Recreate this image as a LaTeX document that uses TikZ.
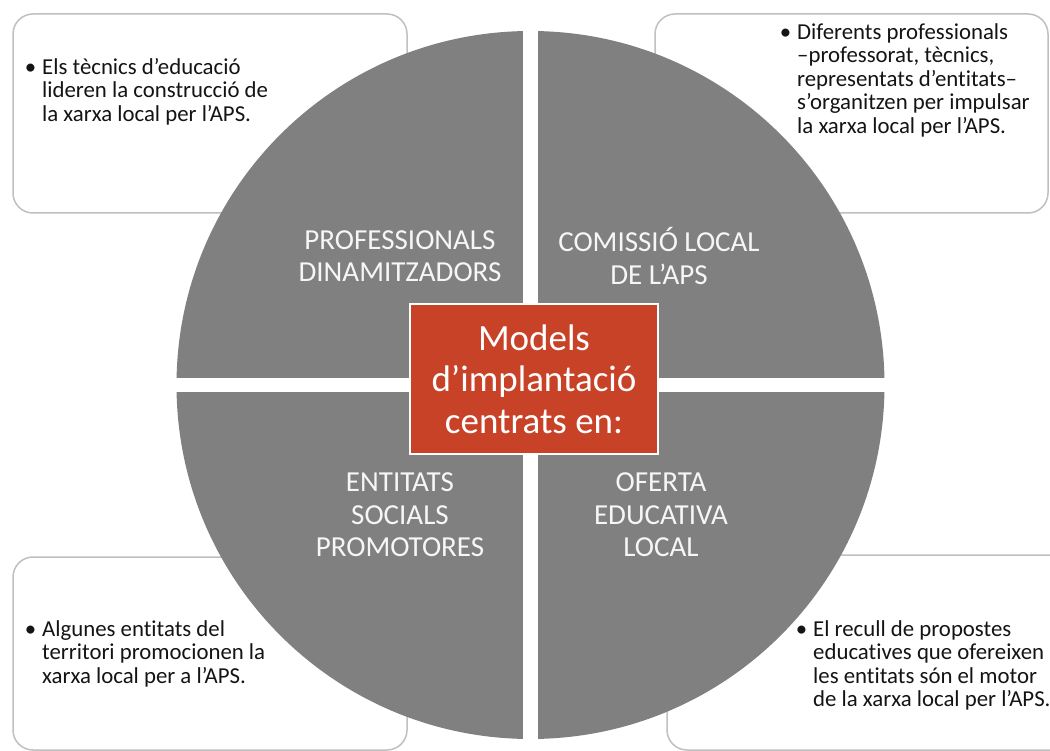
\documentclass[tikz,border=0pt]{standalone}
\usepackage{fontspec}
\setmainfont{Carlito}[RawFeature={-liga;-clig;-dlig}]
\definecolor{quadgray}{RGB}{128,128,128}
\definecolor{centerred}{RGB}{200,66,40}
\definecolor{boxline}{RGB}{192,192,192}
\definecolor{boxtext}{RGB}{20,20,20}
\definecolor{quadtext}{RGB}{246,246,246}
\begin{document}
\begin{tikzpicture}[x=1pt,y=-1pt,
  infobox/.style={draw=boxline,line width=1.5pt,rounded corners=20pt,fill=white},
  infotext/.style={anchor=north west,inner sep=0pt,align=left,text=boxtext,font=\fontsize{22.8}{23.5}\selectfont},
  quadlabel/.style={align=center,text=quadtext,inner sep=0pt,font=\fontsize{29}{32.5}\selectfont},
  centerbox/.style={draw=white,line width=1.5pt,fill=centerred,text=white,minimum width=248pt,minimum height=150pt,inner sep=0pt,align=center,font=\fontsize{37}{41.5}\selectfont}
  ]
\useasboundingbox (0,0) rectangle (1050,751);
\fill[white] (0,0) rectangle (1050,751);
\clip (0,0) rectangle (1050,751);
% outer boxes
\draw[infobox] (13,14) rectangle (407,213);
\draw[infobox] (655,14) rectangle (1048,213);
\draw[infobox] (13,557) rectangle (407,750);
\draw[infobox] (667,555) rectangle (1075,750);
% circle in four quadrants
\coordinate (c) at (530.5,385);
\begin{scope}
  \clip (c) circle[radius=354pt];
  \fill[quadgray] (170,25) rectangle (523,378);
  \fill[quadgray] (538,25) rectangle (890,378);
  \fill[quadgray] (170,392) rectangle (523,745);
  \fill[quadgray] (538,392) rectangle (890,745);
\end{scope}
% centre
\node[centerbox] (center) at (534,379) {Models\\d’implantació\\centrats en:};
% quadrant labels
\node[quadlabel] (qtl) at (400,256) {PROFESSIONALS\\DINAMITZADORS};
\node[quadlabel] (qtr) at (659,256) {COMISSIÓ LOCAL\\DE L’APS};
\node[quadlabel] (qbl) at (400,515) {ENTITATS\\SOCIALS\\PROMOTORES};
\node[quadlabel] (qbr) at (661,515) {OFERTA\\EDUCATIVA\\LOCAL};
% box texts
\node[infotext] (ttl) at (42,58) {\llap{\textbullet\hspace{6pt}}Els tècnics d’educació\\lideren la construcció de\\la xarxa local per l’APS.};
\node[infotext] (ttr) at (797,23) {\llap{\textbullet\hspace{6pt}}Diferents professionals\\–professorat, tècnics,\\representats d’entitats–\\s’organitzen per impulsar\\la xarxa local per l’APS.};
\node[infotext] (tbl) at (42,620) {\llap{\textbullet\hspace{6pt}}Algunes entitats del\\territori promocionen la\\xarxa local per a l’APS.};
\node[infotext] (tbr) at (813,620) {\llap{\textbullet\hspace{6pt}}El recull de propostes\\educatives que ofereixen\\les entitats són el motor\\de la xarxa local per l’APS.};
\end{tikzpicture}
\end{document}
